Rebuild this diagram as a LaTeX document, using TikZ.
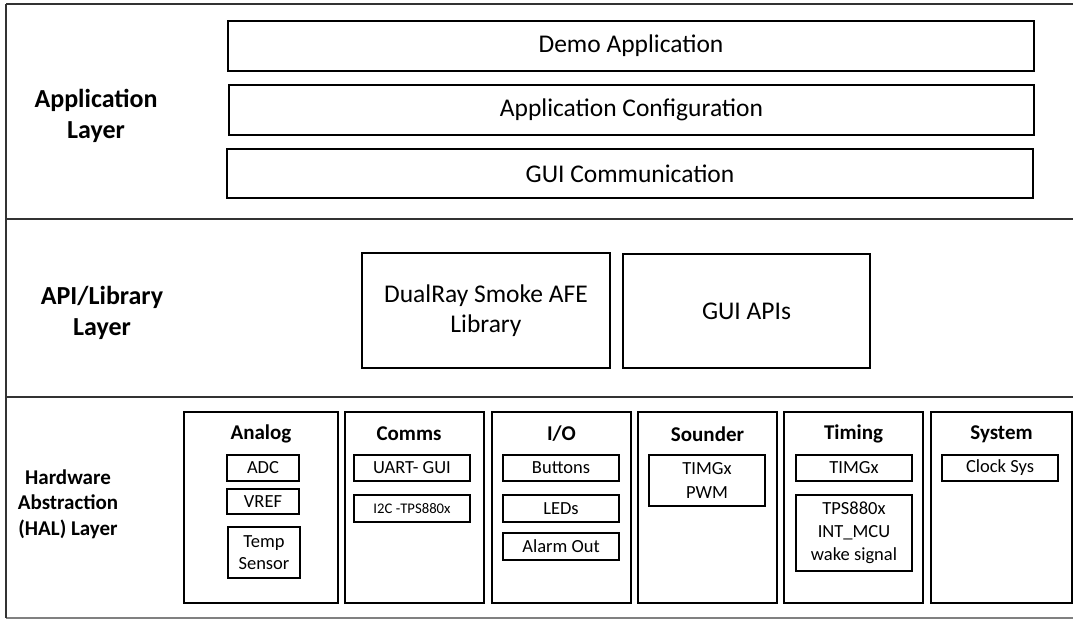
\documentclass[tikz,border=0pt]{standalone}
\usepackage{fontspec}
\setmainfont{Carlito}
\begin{document}
\begin{tikzpicture}[x=1pt,y=-1pt,
  box/.style={draw=black, line width=1.4pt, inner sep=0pt, align=center},
  bigbox/.style={box, font=\fontsize{25.5}{30}\selectfont},
  apibox/.style={box, font=\fontsize{25.5}{30}\selectfont},
  halbox/.style={box},
  small/.style={box, font=\fontsize{18.5}{23}\selectfont},
  layerlbl/.style={align=center, font=\bfseries\fontsize{26}{31}\selectfont},
  hallbl/.style={align=center, font=\bfseries\fontsize{21}{25.5}\selectfont},
  title/.style={font=\bfseries\fontsize{21}{24}\selectfont},
  rule/.style={line width=1.4pt, draw=black!80}]
\useasboundingbox (0,0) rectangle (1073,619);
% frame lines
\coordinate (tl) at (6,4);
\coordinate (tr) at (1073,4);
\coordinate (s1l) at (6,219);
\coordinate (s1r) at (1073,219);
\coordinate (s2l) at (6,397);
\coordinate (s2r) at (1073,397);
\coordinate (bl) at (6,618);
\coordinate (br) at (1073,618);
\draw[rule] (tl) -- (tr);
\draw[rule] (s1l) -- (s1r);
\draw[rule] (s2l) -- (s2r);
\draw[line width=1.4pt, draw=black!50] (bl) -- (br);
\draw[rule] (tl) -- (bl);
% application layer
\node[layerlbl] (applbl) at (96,116) {Application\\Layer};
\node[bigbox, minimum width=806, minimum height=50] (demo) at (631,46) {Demo Application};
\node[bigbox, minimum width=805, minimum height=50] (conf) at (631.5,110) {Application Configuration};
\node[bigbox, minimum width=806, minimum height=49] (guic) at (630,173.5) {GUI Communication};
% API layer
\node[layerlbl] (apilbl) at (102,313) {API/Library\\Layer};
\node[apibox, minimum width=248, minimum height=115] (afe) at (486,310.5) {DualRay Smoke AFE\\Library};
\node[apibox, minimum width=247, minimum height=114] (guiapi) at (746.5,311) {GUI APIs};
% HAL layer
\node[hallbl] (hallbl) at (68,504) {Hardware\\Abstraction\\(HAL) Layer};
\node[halbox, minimum width=154, minimum height=191] (analog) at (261,507.5) {};
\node[halbox, minimum width=139, minimum height=191] (comms) at (414.5,507.5) {};
\node[halbox, minimum width=139, minimum height=191] (io) at (561.5,507.5) {};
\node[halbox, minimum width=139, minimum height=191] (sounder) at (707.5,507.5) {};
\node[halbox, minimum width=139, minimum height=191] (timing) at (853.5,507.5) {};
\node[halbox, minimum width=141, minimum height=191] (system) at (1001.5,507.5) {};
\node[title] (tanalog) at (261,434) {Analog};
\node[title] (tcomms) at (409,434) {Comms};
\node[title] (tio) at (561.5,434) {I/O};
\node[title] (tsounder) at (707.5,434) {Sounder};
\node[title] (ttiming) at (853.5,434) {Timing};
\node[title] (tsystem) at (1001.5,434) {System};
% analog
\node[small, minimum width=72, minimum height=26] (adc) at (263,468) {ADC};
\node[small, minimum width=72, minimum height=25] (vref) at (263,501.5) {VREF};
\node[small, minimum width=72, minimum height=51, font=\fontsize{18.5}{22}\selectfont] (temp) at (264,552.5) {Temp\\Sensor};
% comms
\node[small, minimum width=116, minimum height=26] (uart) at (412,468) {UART- GUI};
\node[small, minimum width=116, minimum height=27, font=\fontsize{14.7}{18}\selectfont] (i2c) at (412,508.5) {I2C -TPS880x};
% io
\node[small, minimum width=116, minimum height=26] (btn) at (561,468) {Buttons};
\node[small, minimum width=116, minimum height=27] (leds) at (561,508.5) {LEDs};
\node[small, minimum width=116, minimum height=27] (alarm) at (561,546.5) {Alarm Out};
% sounder
\node[small, minimum width=116, minimum height=51, font=\fontsize{18.5}{24}\selectfont] (pwm) at (707,480.5) {TIMGx\\PWM};
% timing
\node[small, minimum width=116, minimum height=26] (timgx) at (854,468) {TIMGx};
\node[small, minimum width=116, minimum height=76] (tps) at (854,533) {TPS880x\\INT\_MCU\\wake signal};
% system
\node[small, minimum width=116, minimum height=26] (clk) at (1000,468) {Clock Sys};
\end{tikzpicture}
\end{document}
